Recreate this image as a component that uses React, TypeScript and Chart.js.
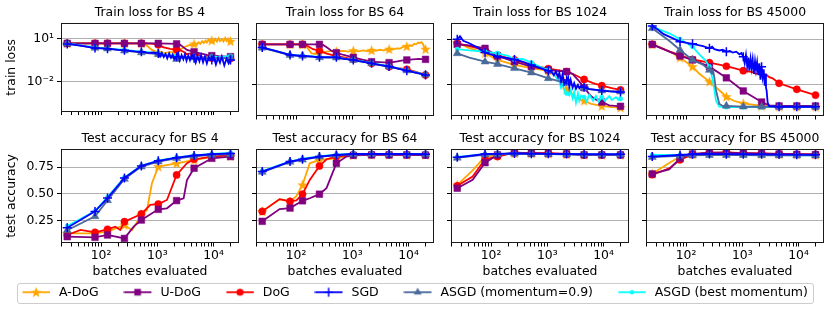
import React, { useEffect, useRef } from "react";
import { Chart, registerables } from "chart.js";

Chart.register(...registerables);

const FONT_FAMILY = "'DejaVu Sans', 'Noto Sans', sans-serif";
const FS = 12.4;

type Pt = [number, number];

// evaluation points that carry markers
const MARK_X = [25, 78, 130, 260, 520, 1040, 2200, 4500, 9300, 20000];

// ---------------- Train loss, BS 4 ----------------
const tl4_adog: Pt[] = [[25,4.6],[78,4.6],[130,4.6],[260,4.6],[520,4.5],[650,3.2],[800,1.6],[1040,1.05],[1300,0.95],[1700,1.1],[2000,1.05],[2200,1.3],[2560,1.7],[2930,2.4],[3360,3.0],[3850,3.6],[4100,2.9],[4500,4.2],[5000,3.5],[5400,5.4],[5800,4.2],[6300,6.5],[6700,4.8],[7200,7.2],[7600,5.2],[8200,8.5],[8700,5.6],[9300,7.2],[10000,5.5],[10700,9.5],[11500,6.0],[12300,10.5],[13000,6.5],[14100,9.0],[15000,6.2],[16100,11],[17000,6.8],[18000,9.5],[18800,5.5],[20000,6.5]];
const tl4_udog: Pt[] = [[25,4.6],[78,4.6],[130,4.6],[260,4.6],[520,4.6],[1040,4.6],[2200,4.2],[2560,3.6],[2930,2.4],[3360,1.6],[4500,1.17],[5800,0.9],[7600,0.72],[9300,0.63],[12300,0.58],[16100,0.55],[20000,0.54]];
const tl4_dog: Pt[] = [[25,4.6],[78,4.6],[130,4.6],[260,4.6],[520,4.6],[800,4.4],[1040,3.6],[1300,2.4],[1700,1.9],[2200,1.7],[2560,1.5],[2930,1.2],[3360,0.8],[3850,0.9],[4500,0.6],[5400,0.75],[6300,0.45],[7600,0.6],[9300,0.42],[11500,0.55],[14100,0.35],[17000,0.5],[20000,0.4]];
const tl4_sgd: Pt[] = [[25,4.2],[40,3.3],[78,2.15],[130,1.94],[200,1.6],[260,1.5],[400,1.25],[520,1.17],[700,1.0],[850,1.05],[1040,0.9],[1120,0.55],[1200,1.0],[1300,0.5],[1400,0.85],[1500,0.4],[1620,0.9],[1750,0.45],[1880,0.75],[2000,0.35],[2200,0.54],[2350,0.9],[2500,0.3],[2700,0.7],[2900,0.35],[3100,0.8],[3300,0.28],[3550,0.65],[3800,0.3],[4100,0.75],[4500,0.42],[4800,0.2],[5200,0.6],[5600,0.25],[6000,0.7],[6500,0.22],[7000,0.55],[7600,0.18],[8200,0.5],[9300,0.32],[10000,0.6],[11000,0.15],[12000,0.45],[13000,0.2],[14000,0.55],[15500,0.13],[17000,0.4],[18500,0.18],[20000,0.32]];
const tl4_asgd: Pt[] = [[25,4.4],[78,2.2],[130,1.94],[260,1.4],[520,1.05],[1040,0.8],[1500,0.6],[2200,0.36],[3000,0.5],[4500,0.46],[6000,0.4],[9300,0.44],[13000,0.42],[20000,0.44]];
const tl4_best: Pt[] = [[25,4.6],[78,2.4],[130,2.0],[260,1.6],[520,1.2],[1040,0.95],[1500,0.7],[2200,0.6],[3000,0.45],[4500,0.5],[6500,0.4],[9300,0.55],[13000,0.5],[20000,0.6]];

// ---------------- Train loss, BS 64 ----------------
const tl64_adog: Pt[] = [[25,4.6],[78,4.6],[130,4.5],[155,3.0],[188,1.15],[230,1.05],[260,1.2],[350,1.5],[430,1.7],[520,1.55],[700,1.7],[850,1.5],[1040,1.75],[1300,1.55],[1556,1.8],[1900,1.6],[2200,1.85],[2600,1.7],[3076,2.0],[3600,1.85],[4500,2.2],[5200,2.1],[6080,2.5],[7000,2.4],[8000,3.1],[9300,3.4],[10500,4.0],[11500,3.6],[12600,5.0],[13600,4.6],[14760,6.0],[15800,5.4],[16940,6.4],[17800,5.5],[18600,3.5],[19400,2.0],[20000,2.2]];
const tl64_udog: Pt[] = [[25,4.6],[78,4.6],[130,4.6],[260,4.6],[300,4.2],[340,3.2],[420,1.8],[520,1.29],[700,0.9],[1040,0.63],[1500,0.45],[2200,0.32],[3000,0.3],[4500,0.28],[6000,0.33],[7500,0.38],[9300,0.42],[12000,0.46],[15000,0.5],[20000,0.46]];
const tl64_dog: Pt[] = [[25,4.6],[78,4.6],[130,4.6],[160,3.6],[200,2.2],[260,1.73],[350,1.1],[520,0.77],[700,0.62],[1040,0.46],[1500,0.34],[2200,0.25],[3000,0.2],[4500,0.15],[6500,0.12],[9300,0.1],[13000,0.07],[20000,0.042]];
const tl64_sgd: Pt[] = [[25,2.8],[40,1.8],[78,0.9],[130,0.77],[200,0.7],[260,0.63],[350,0.65],[520,0.63],[700,0.5],[1040,0.42],[1300,0.35],[1500,0.33],[2200,0.25],[3000,0.2],[4500,0.155],[6500,0.11],[9300,0.081],[13000,0.06],[20000,0.042]];
const tl64_asgd: Pt[] = [[25,2.7],[78,0.88],[130,0.78],[260,0.62],[520,0.6],[1040,0.41],[2200,0.25],[4500,0.15],[9300,0.083],[20000,0.044]];
const tl64_best: Pt[] = [[25,2.9],[78,0.92],[130,0.8],[260,0.66],[520,0.62],[1040,0.43],[2200,0.26],[4500,0.16],[9300,0.085],[20000,0.045]];

// ---------------- Train loss, BS 1024 ----------------
const tl1024_adog: Pt[] = [[25,6],[41,2.6],[78,1.2],[130,0.42],[260,0.2],[520,0.12],[1040,0.08],[1423,0.05],[1632,0.025],[1750,0.04],[1870,0.01],[2000,0.02],[2200,0.005],[2457,0.0025],[2600,0.004],[2818,0.0015],[3229,0.0012],[4500,0.0008],[6000,0.0005],[9300,0.00036],[14000,0.0003],[20000,0.00028]];
const tl1024_udog: Pt[] = [[25,4.6],[41,4],[78,2.5],[130,0.77],[260,0.32],[520,0.15],[1040,0.09],[1632,0.075],[2200,0.07],[2800,0.05],[3500,0.02],[4500,0.006],[6000,0.0016],[7500,0.0009],[9300,0.00066],[12600,0.0004],[20000,0.00034]];
const tl1024_dog: Pt[] = [[25,5.4],[41,3.5],[78,1.9],[130,0.9],[260,0.42],[520,0.19],[1040,0.11],[2200,0.07],[3000,0.045],[4500,0.021],[6500,0.012],[9300,0.0081],[14000,0.0055],[20000,0.0042]];
const tl1024_sgd: Pt[] = [[25,10],[28,16],[32,8],[41,5.5],[54,3.2],[78,1.3],[130,0.69],[200,0.55],[260,0.45],[364,0.33],[520,0.19],[720,0.13],[1040,0.08],[1200,0.065],[1300,0.04],[1423,0.07],[1550,0.03],[1632,0.06],[1750,0.015],[1870,0.045],[2000,0.01],[2200,0.019],[2350,0.03],[2457,0.007],[2600,0.02],[2818,0.006],[3000,0.012],[3229,0.005],[3500,0.009],[3700,0.0055],[4000,0.008],[4500,0.0063],[5570,0.0048],[7310,0.0042],[9300,0.0038],[12630,0.0034],[16600,0.0032],[20000,0.0031]];
const tl1024_asgd: Pt[] = [[25,1.15],[41,0.6],[78,0.32],[130,0.22],[260,0.117],[520,0.06],[1040,0.025],[2200,0.012],[4500,0.0054],[9300,0.0038],[20000,0.0032]];
const tl1024_best: Pt[] = [[25,2.2],[41,1.8],[78,1.5],[130,1.17],[200,0.8],[260,0.45],[364,0.5],[520,0.28],[720,0.15],[1040,0.09],[1300,0.05],[1423,0.03],[1632,0.015],[1750,0.006],[1870,0.01],[2000,0.004],[2200,0.0025],[2457,0.0018],[2600,0.004],[2818,0.0012],[3000,0.003],[3229,0.0006],[3500,0.0025],[3700,0.0008],[4000,0.0018],[4500,0.0014],[5000,0.0007],[5570,0.002],[6500,0.0008],[7310,0.0017],[8200,0.0007],[9300,0.0014],[10500,0.0008],[12630,0.0016],[14000,0.0009],[16600,0.0014],[18500,0.0009],[20000,0.0011]];

// ---------------- Train loss, BS 45000 ----------------
const tl45k_adog: Pt[] = [[25,4.6],[50,1.6],[78,0.6],[130,0.15],[172,0.05],[260,0.015],[389,0.004],[520,0.0015],[700,0.0008],[1040,0.00054],[2200,0.00036],[4500,0.00032],[9300,0.00032],[20000,0.00032]];
const tl45k_udog: Pt[] = [[25,4.6],[50,1.5],[78,0.77],[130,0.42],[260,0.15],[520,0.027],[1040,0.0036],[2200,0.00066],[3000,0.0004],[4500,0.00036],[9300,0.00036],[20000,0.00036]];
const tl45k_dog: Pt[] = [[25,4.6],[50,1.6],[78,0.9],[130,0.45],[260,0.28],[520,0.16],[1040,0.081],[1527,0.065],[1750,0.05],[2006,0.055],[2300,0.042],[2633,0.045],[3017,0.03],[3460,0.025],[4500,0.0117],[9300,0.0046],[20000,0.0019]];
const tl45k_sgd: Pt[] = [[25,77],[30,50],[40,22],[78,7.0],[130,5.0],[200,3.5],[260,2.5],[290,3.2],[317,2.2],[389,1.8],[447,2.0],[520,1.5],[600,1.7],[673,1.3],[780,1.5],[884,1.0],[960,1.2],[1040,0.7],[1100,0.25],[1160,0.9],[1220,0.15],[1280,0.6],[1330,0.08],[1400,0.5],[1460,0.12],[1527,0.45],[1600,0.05],[1680,0.35],[1750,0.09],[1830,0.3],[1920,0.04],[2006,0.25],[2100,0.02],[2200,0.15],[2298,0.03],[2400,0.1],[2500,0.008],[2580,0.05],[2633,0.006],[2700,0.004],[2818,0.0006],[3017,0.00035],[4500,0.00032],[9300,0.00032],[20000,0.00032]];
const tl45k_asgd: Pt[] = [[25,54],[50,8],[78,1.94],[130,0.42],[200,0.2],[260,0.09],[290,0.05],[300,0.1],[317,0.03],[340,0.004],[389,0.0005],[447,0.00036],[520,0.00036],[1040,0.00032],[2200,0.00032],[4500,0.00032],[9300,0.00032],[20000,0.00032]];
const tl45k_best: Pt[] = [[25,70],[50,25],[78,10],[130,3.2],[172,1.0],[220,0.4],[260,0.15],[290,0.03],[317,0.005],[340,0.0008],[389,0.00032],[520,0.0003],[1040,0.0003],[2200,0.0003],[4500,0.0003],[9300,0.0003],[20000,0.0003]];

// ---------------- Test accuracy, BS 4 ----------------
const ta4_adog: Pt[] = [[25,0.131],[78,0.131],[130,0.147],[260,0.21],[354,0.16],[520,0.303],[654,0.35],[802,0.6],[1040,0.756],[2200,0.787],[4500,0.819],[9300,0.844],[20000,0.856]];
const ta4_udog: Pt[] = [[25,0.1],[78,0.094],[130,0.116],[260,0.084],[379,0.194],[520,0.256],[1040,0.356],[1483,0.366],[2200,0.438],[2932,0.459],[3365,0.631],[4500,0.741],[9300,0.834],[20000,0.85]];
const ta4_dog: Pt[] = [[25,0.116],[43,0.163],[78,0.141],[130,0.169],[179,0.194],[219,0.163],[260,0.241],[520,0.313],[749,0.397],[1040,0.406],[1483,0.444],[2200,0.678],[3365,0.788],[4500,0.825],[9300,0.85],[20000,0.863]];
const ta4_sgd: Pt[] = [[25,0.184],[78,0.337],[130,0.462],[260,0.65],[520,0.763],[1040,0.81],[2200,0.84],[4500,0.86],[9300,0.872],[20000,0.88]];
const ta4_asgd: Pt[] = [[25,0.16],[78,0.29],[130,0.44],[260,0.64],[520,0.756],[1040,0.803],[2200,0.834],[4500,0.853],[9300,0.866],[20000,0.872]];
const ta4_best: Pt[] = [[25,0.2],[78,0.34],[130,0.47],[260,0.655],[520,0.765],[1040,0.812],[2200,0.842],[4500,0.862],[9300,0.875],[20000,0.885]];

// ---------------- Test accuracy, BS 64 ----------------
const ta64_adog: Pt[] = [[25,0.337],[51,0.45],[78,0.43],[101,0.48],[130,0.585],[175,0.787],[260,0.818],[520,0.834],[1040,0.865],[2200,0.868],[4500,0.868],[9300,0.867],[20000,0.866]];
const ta64_udog: Pt[] = [[25,0.244],[51,0.359],[78,0.368],[130,0.436],[175,0.46],[260,0.498],[347,0.554],[520,0.787],[785,0.85],[1040,0.862],[2200,0.866],[4500,0.866],[9300,0.866],[20000,0.864]];
const ta64_dog: Pt[] = [[25,0.337],[51,0.452],[78,0.43],[101,0.44],[130,0.498],[175,0.632],[260,0.762],[347,0.825],[520,0.85],[1040,0.866],[2200,0.868],[4500,0.868],[9300,0.866],[20000,0.866]];
const ta64_sgd: Pt[] = [[25,0.71],[78,0.803],[130,0.825],[260,0.85],[520,0.865],[1040,0.874],[2200,0.874],[4500,0.874],[9300,0.874],[20000,0.872]];
const ta64_asgd: Pt[] = [[25,0.705],[78,0.8],[130,0.82],[260,0.848],[520,0.863],[1040,0.872],[2200,0.872],[4500,0.872],[9300,0.871],[20000,0.87]];
const ta64_best: Pt[] = [[25,0.715],[78,0.806],[130,0.828],[260,0.853],[520,0.867],[1040,0.876],[2200,0.876],[4500,0.876],[9300,0.875],[20000,0.874]];

// ---------------- Test accuracy, BS 1024 ----------------
const ta1024_adog: Pt[] = [[25,0.585],[47,0.72],[78,0.85],[130,0.862],[260,0.882],[520,0.88],[1040,0.878],[2200,0.872],[4500,0.866],[9300,0.865],[20000,0.866]];
const ta1024_udog: Pt[] = [[25,0.554],[47,0.632],[78,0.793],[130,0.866],[260,0.887],[520,0.881],[1040,0.878],[2200,0.875],[4500,0.866],[9300,0.866],[20000,0.866]];
const ta1024_dog: Pt[] = [[25,0.576],[47,0.663],[78,0.825],[130,0.85],[260,0.887],[520,0.881],[1040,0.881],[2200,0.875],[4500,0.866],[9300,0.866],[20000,0.866]];
const ta1024_sgd: Pt[] = [[25,0.843],[78,0.874],[130,0.876],[260,0.88],[520,0.877],[1040,0.876],[2200,0.874],[4500,0.872],[9300,0.872],[20000,0.872]];
const ta1024_asgd: Pt[] = [[25,0.838],[78,0.868],[130,0.872],[260,0.876],[520,0.874],[1040,0.873],[2200,0.871],[4500,0.869],[9300,0.868],[20000,0.868]];
const ta1024_best: Pt[] = [[25,0.848],[78,0.872],[130,0.874],[260,0.877],[520,0.875],[1040,0.874],[2200,0.872],[4500,0.87],[9300,0.87],[20000,0.87]];

// ---------------- Test accuracy, BS 45000 ----------------
const ta45k_adog: Pt[] = [[25,0.69],[50,0.79],[78,0.85],[130,0.872],[260,0.884],[520,0.884],[1040,0.88],[2200,0.876],[4500,0.872],[9300,0.87],[20000,0.868]];
const ta45k_udog: Pt[] = [[25,0.688],[50,0.73],[78,0.834],[130,0.875],[260,0.887],[520,0.887],[1040,0.881],[2200,0.878],[4500,0.874],[9300,0.871],[20000,0.869]];
const ta45k_dog: Pt[] = [[25,0.68],[50,0.74],[78,0.82],[130,0.868],[260,0.885],[520,0.888],[1040,0.883],[2200,0.879],[4500,0.875],[9300,0.872],[20000,0.87]];
const ta45k_sgd: Pt[] = [[25,0.85],[78,0.865],[130,0.872],[260,0.874],[520,0.873],[1040,0.872],[2200,0.871],[4500,0.869],[9300,0.868],[20000,0.867]];
const ta45k_asgd: Pt[] = [[25,0.845],[78,0.856],[130,0.862],[260,0.864],[520,0.864],[1040,0.863],[2200,0.862],[4500,0.862],[9300,0.861],[20000,0.861]];
const ta45k_best: Pt[] = [[25,0.865],[78,0.866],[130,0.865],[260,0.866],[520,0.866],[1040,0.865],[2200,0.864],[4500,0.863],[9300,0.862],[20000,0.862]];

const SERIES = [
  { key: "adog", label: "A-DoG", color: "#ffa500", marker: "star", radius: 5, order: 6 },
  { key: "udog", label: "U-DoG", color: "#800080", marker: "rect", radius: 4.7, order: 4 },
  { key: "dog", label: "DoG", color: "#ff0000", marker: "circle", radius: 3.6, order: 5 },
  { key: "sgd", label: "SGD", color: "#0000ff", marker: "cross", radius: 4.5, order: 1 },
  { key: "asgd", label: "ASGD (momentum=0.9)", color: "#4a6a9b", marker: "triangle", radius: 4.6, order: 2 },
  { key: "best", label: "ASGD (best momentum)", color: "#00ffff", marker: "circle", radius: 2.2, order: 3 },
];

const PANELS = [
  { row: 0, col: 0, title: "Train loss for BS 4", data: { adog: tl4_adog, udog: tl4_udog, dog: tl4_dog, sgd: tl4_sgd, asgd: tl4_asgd, best: tl4_best } },
  { row: 0, col: 1, title: "Train loss for BS 64", data: { adog: tl64_adog, udog: tl64_udog, dog: tl64_dog, sgd: tl64_sgd, asgd: tl64_asgd, best: tl64_best } },
  { row: 0, col: 2, title: "Train loss for BS 1024", data: { adog: tl1024_adog, udog: tl1024_udog, dog: tl1024_dog, sgd: tl1024_sgd, asgd: tl1024_asgd, best: tl1024_best } },
  { row: 0, col: 3, title: "Train loss for BS 45000", data: { adog: tl45k_adog, udog: tl45k_udog, dog: tl45k_dog, sgd: tl45k_sgd, asgd: tl45k_asgd, best: tl45k_best } },
  { row: 1, col: 0, title: "Test accuracy for BS 4", data: { adog: ta4_adog, udog: ta4_udog, dog: ta4_dog, sgd: ta4_sgd, asgd: ta4_asgd, best: ta4_best } },
  { row: 1, col: 1, title: "Test accuracy for BS 64", data: { adog: ta64_adog, udog: ta64_udog, dog: ta64_dog, sgd: ta64_sgd, asgd: ta64_asgd, best: ta64_best } },
  { row: 1, col: 2, title: "Test accuracy for BS 1024", data: { adog: ta1024_adog, udog: ta1024_udog, dog: ta1024_dog, sgd: ta1024_sgd, asgd: ta1024_asgd, best: ta1024_best } },
  { row: 1, col: 3, title: "Test accuracy for BS 45000", data: { adog: ta45k_adog, udog: ta45k_udog, dog: ta45k_dog, sgd: ta45k_sgd, asgd: ta45k_asgd, best: ta45k_best } },
];

// axis ranges
const X_MIN = Math.pow(10, 1.287);
const X_MAX = Math.pow(10, 4.452);
const LOSS_MIN = Math.pow(10, -4.113);
const LOSS_MAX = Math.pow(10, 2.087);
const ACC_MIN = 0.041;
const ACC_MAX = 0.921;
const LOSS_TICKS = [0.01, 10];
const ACC_TICKS = [0.25, 0.5, 0.75];

// layout geometry
const COL_LEFT = [61, 256, 451, 646];
const BOX_W = 178;
const ROW_TOP = [0, 126];
const BOX_H = [93, 94];
const TITLE_H = 23;
const X_AXIS_H = [6, 38];

function xTicks(): number[] {
  const out: number[] = [];
  for (const d of [10, 100, 1000, 10000]) {
    for (let m = 1; m <= 9; m++) {
      const v = m * d;
      if (v >= X_MIN && v <= X_MAX) out.push(v);
    }
  }
  return out;
}

function isPow10(v: number, p: number) {
  return Math.abs(Math.log10(v) - p) < 1e-6;
}

function xLabel(v: number) {
  if (isPow10(v, 2)) return "10\u00B2";
  if (isPow10(v, 3)) return "10\u00B3";
  if (isPow10(v, 4)) return "10\u2074";
  return "";
}

function starPath(g: CanvasRenderingContext2D, cx: number, cy: number, ro: number, ri: number) {
  g.beginPath();
  for (let i = 0; i < 10; i++) {
    const r = i % 2 === 0 ? ro : ri;
    const a = -Math.PI / 2 + (i * Math.PI) / 5;
    const px = cx + r * Math.cos(a);
    const py = cy + r * Math.sin(a);
    if (i === 0) g.moveTo(px, py);
    else g.lineTo(px, py);
  }
  g.closePath();
}

function makeStar(color: string) {
  const c = document.createElement("canvas");
  c.width = 13;
  c.height = 13;
  const g = c.getContext("2d")!;
  g.fillStyle = color;
  starPath(g, 6.5, 6.9, 5.6, 2.3);
  g.fill();
  return c;
}

function drawMarker(g: CanvasRenderingContext2D, s: any, x: number, y: number) {
  g.fillStyle = s.color;
  g.strokeStyle = s.color;
  const r = s.radius;
  switch (s.marker) {
    case "star":
      starPath(g, x, y + 0.4, 5.6, 2.3);
      g.fill();
      break;
    case "rect": {
      const h = r * Math.SQRT1_2;
      g.fillRect(x - h, y - h, 2 * h, 2 * h);
      break;
    }
    case "circle":
      g.beginPath();
      g.arc(x, y, r, 0, Math.PI * 2);
      g.fill();
      break;
    case "cross":
      g.lineWidth = 1.5;
      g.beginPath();
      g.moveTo(x - r, y);
      g.lineTo(x + r, y);
      g.moveTo(x, y - r);
      g.lineTo(x, y + r);
      g.stroke();
      break;
    case "triangle": {
      g.beginPath();
      g.moveTo(x, y - r);
      g.lineTo(x + r * Math.sin((2 * Math.PI) / 3), y - r * Math.cos((2 * Math.PI) / 3));
      g.lineTo(x + r * Math.sin((4 * Math.PI) / 3), y - r * Math.cos((4 * Math.PI) / 3));
      g.closePath();
      g.fill();
      break;
    }
  }
}

function makeIcon(s: any) {
  const c = document.createElement("canvas");
  c.width = 31;
  c.height = 14;
  const g = c.getContext("2d")!;
  g.strokeStyle = s.color;
  g.lineWidth = 1.8;
  g.beginPath();
  g.moveTo(0.5, 7);
  g.lineTo(28, 7);
  g.stroke();
  drawMarker(g, s, 14.2, 7);
  return c;
}

const framePlugin = {
  id: "frame",
  afterDraw(chart: any) {
    const { ctx, chartArea } = chart;
    if (!chartArea) return;
    const l = Math.round(chartArea.left) + 0.5;
    const t = Math.round(chartArea.top) + 0.5;
    const r = Math.round(chartArea.right) - 0.5;
    const b = Math.round(chartArea.bottom) - 0.5;
    ctx.save();
    ctx.strokeStyle = "#1a1a1a";
    ctx.lineWidth = 1;
    ctx.strokeRect(l, t, r - l, b - t);
    ctx.restore();
  },
};

function geom(p: any) {
  const yw = p.col === 0 ? COL_LEFT[0] : 8;
  const xh = X_AXIS_H[p.row];
  const w = yw + BOX_W + 3;
  const h = TITLE_H + BOX_H[p.row] + xh;
  return { left: COL_LEFT[p.col] - yw, top: ROW_TOP[p.row], w, h, yw, xh };
}

function panelConfig(p: any, star: HTMLCanvasElement): any {
  const g = geom(p);
  const isTop = p.row === 0;
  const font = { family: FONT_FAMILY, size: FS, weight: "normal" as const, lineHeight: 1.2 };
  const datasets = SERIES.map((s) => ({
    label: s.label,
    data: (p.data[s.key] as Pt[]).map(([x, y]) => ({ x, y })),
    borderColor: s.color,
    backgroundColor: s.color,
    borderWidth: 1.8,
    pointStyle: s.marker === "star" ? star : s.marker,
    pointRadius: (c: any) => (c.raw && MARK_X.includes(c.raw.x) ? s.radius : 0),
    pointHoverRadius: 0,
    pointBorderWidth: s.marker === "cross" ? 1.5 : 0.5,
    pointBorderColor: s.color,
    pointBackgroundColor: s.color,
    order: s.order,
    tension: 0,
    fill: false,
  }));

  const yScale: any = isTop
    ? {
        type: "logarithmic",
        min: LOSS_MIN,
        max: LOSS_MAX,
        afterBuildTicks: (sc: any) => {
          sc.ticks = LOSS_TICKS.map((v) => ({ value: v }));
        },
        ticks: {
          display: p.col === 0,
          autoSkip: false,
          padding: 3,
          color: "#000",
          font,
          callback: (v: number) => (isPow10(v, 1) ? "10\u00B9" : isPow10(v, -2) ? "10\u207B\u00B2" : ""),
        },
        title: { display: p.col === 0, text: "train loss", color: "#000", font, padding: { top: 4.6, bottom: 0 } },
      }
    : {
        type: "linear",
        min: ACC_MIN,
        max: ACC_MAX,
        afterBuildTicks: (sc: any) => {
          sc.ticks = ACC_TICKS.map((v) => ({ value: v }));
        },
        ticks: {
          display: p.col === 0,
          autoSkip: false,
          padding: 3,
          color: "#000",
          font,
          callback: (v: number) => Number(v).toFixed(2),
        },
        title: { display: p.col === 0, text: "test accuracy", color: "#000", font, padding: { top: 4.6, bottom: 0 } },
      };
  Object.assign(yScale, {
    position: "left",
    afterFit: (sc: any) => {
      sc.width = g.yw;
    },
    grid: { display: true, drawOnChartArea: true, drawTicks: true, tickLength: 4, color: "#b0b0b0", lineWidth: 1, tickColor: "#000", tickWidth: 1 },
    border: { display: false },
  });

  const XT = xTicks();
  return {
    type: "line",
    data: { datasets },
    options: {
      responsive: false,
      animation: false,
      devicePixelRatio: 1,
      events: [],
      parsing: true,
      layout: { padding: { left: 0, right: 3, top: 0, bottom: 0 }, autoPadding: false },
      plugins: {
        legend: { display: false },
        tooltip: { enabled: false },
        title: {
          display: true,
          text: p.title,
          color: "#000",
          font,
          fullSize: false,
          padding: { top: 4.9, bottom: 3.22 },
        },
      },
      scales: {
        x: {
          type: "logarithmic",
          position: "bottom",
          min: X_MIN,
          max: X_MAX,
          afterBuildTicks: (sc: any) => {
            sc.ticks = XT.map((v) => ({ value: v }));
          },
          afterFit: (sc: any) => {
            sc.height = g.xh;
          },
          ticks: {
            display: !isTop,
            autoSkip: false,
            maxRotation: 0,
            minRotation: 0,
            padding: 2,
            color: "#000",
            font,
            callback: (v: number) => xLabel(v),
          },
          grid: { display: true, drawOnChartArea: false, drawTicks: true, tickLength: 3.5, tickColor: "#000", tickWidth: 1 },
          border: { display: false },
          title: { display: !isTop, text: "batches evaluated", color: "#000", font, padding: { top: 0, bottom: 2 } },
        },
        y: yScale,
      },
    },
    plugins: [framePlugin],
  };
}

function legendConfig(icons: HTMLCanvasElement[]): any {
  return {
    type: "line",
    data: { datasets: SERIES.map((s) => ({ label: s.label, data: [], borderColor: s.color })) },
    options: {
      responsive: false,
      animation: false,
      devicePixelRatio: 1,
      events: [],
      layout: { padding: 0 },
      scales: { x: { display: false }, y: { display: false } },
      plugins: {
        tooltip: { enabled: false },
        title: { display: false },
        legend: {
          display: true,
          position: "top",
          align: "center",
          maxHeight: 200,
          labels: {
            usePointStyle: true,
            pointStyleWidth: 30.5,
            padding: 25,
            color: "#000",
            font: { family: FONT_FAMILY, size: 12.5 },
            generateLabels: () =>
              SERIES.map((s, i) => ({
                text: s.label,
                pointStyle: icons[i],
                fillStyle: s.color,
                strokeStyle: s.color,
                lineWidth: 0,
                hidden: false,
                datasetIndex: i,
                fontColor: "#000",
              })),
          },
        },
      },
    },
  };
}

export default function App() {
  const refs = useRef<(HTMLCanvasElement | null)[]>([]);
  const legendRef = useRef<HTMLCanvasElement | null>(null);

  useEffect(() => {
    Chart.defaults.font.family = FONT_FAMILY;
    Chart.defaults.color = "#000";
    const star = makeStar("#ffa500");
    const icons = SERIES.map((s) => makeIcon(s));
    const charts: Chart[] = PANELS.map((p, i) => new Chart(refs.current[i]!, panelConfig(p, star)));
    charts.push(new Chart(legendRef.current!, legendConfig(icons)));
    return () => charts.forEach((c) => c.destroy());
  }, []);

  return (
    <div style={{ position: "fixed", left: 0, top: 0, width: 831, height: 311, background: "#fff", overflow: "hidden" }}>
      {PANELS.map((p, i) => {
        const g = geom(p);
        return (
          <canvas
            key={i}
            ref={(el) => {
              refs.current[i] = el;
            }}
            width={g.w}
            height={g.h}
            style={{ position: "absolute", left: g.left, top: g.top, width: g.w, height: g.h }}
          />
        );
      })}
      <div
        style={{
          position: "absolute",
          left: 17,
          top: 283,
          width: 797,
          height: 21,
          boxSizing: "border-box",
          border: "1px solid #cccccc",
          borderRadius: 3,
          background: "#fff",
        }}
      />
      <canvas
        ref={legendRef}
        width={900}
        height={70}
        style={{ position: "absolute", left: -35, top: 261, width: 900, height: 70 }}
      />
    </div>
  );
}
